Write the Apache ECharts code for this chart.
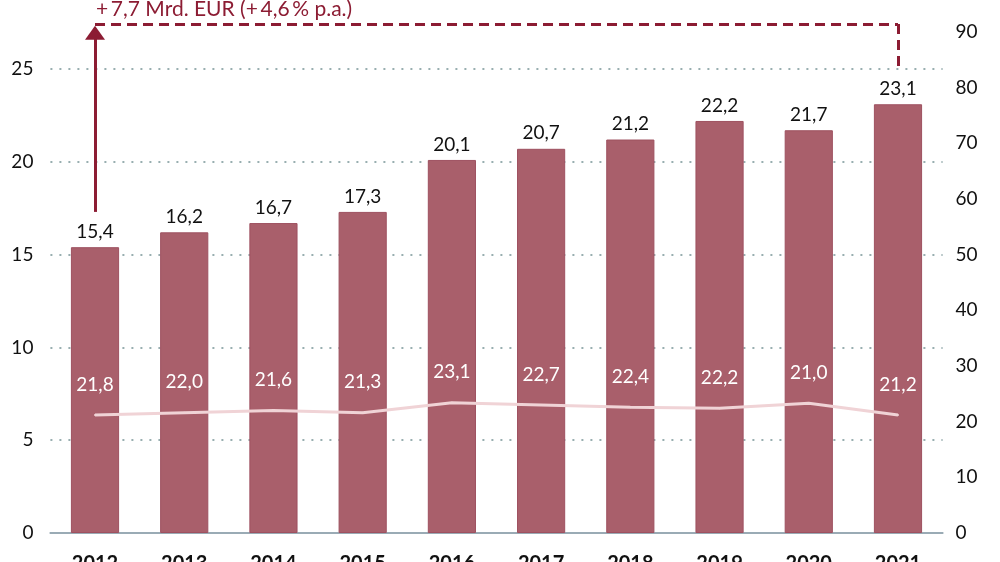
<!DOCTYPE html>
<html>
<head>
<meta charset="utf-8">
<script src="https://cdn.jsdelivr.net/npm/echarts@6/dist/echarts.min.js"></script>
<style>
html,body{margin:0;padding:0;width:1000px;height:562px;overflow:hidden;background:#fff;}
#c{position:absolute;left:0;top:-40px;width:1000px;height:640px;}
</style>
</head>
<body>
<div id="c"></div>
<script>
// Data
const years = ['2012','2013','2014','2015','2016','2017','2018','2019','2020','2021'];
const barValues = [15.4, 16.2, 16.7, 17.3, 20.1, 20.7, 21.2, 22.2, 21.7, 23.1];
const lineValues = [21.2, 21.6, 22.0, 21.6, 23.4, 23.0, 22.6, 22.4, 23.3, 21.2];
const lineLabels = ['21,8','22,0','21,6','21,3','23,1','22,7','22,4','22,2','21,0','21,2'];
const leftTicks = [0, 5, 10, 15, 20, 25];
const rightTicks = [0, 10, 20, 30, 40, 50, 60, 70, 80, 90];
const annotationText = '+\u20097,7 Mrd. EUR (+\u20094,6\u2009% p.a.)';
const arrowFrom = 17.3, arrowTo = 26.95, dashLevel = 27.42, dashEnd = 25.0, textLevel = 28.2;

const FONT = 'Lato';
const RED = '#8c1c33';
const INK = '#111111';
const fmt = v => v.toFixed(1).replace('.', ',');

const chart = echarts.init(document.getElementById('c'), null, {renderer: 'canvas'});
chart.setOption({
  animation: false,
  backgroundColor: '#fff',
  textStyle: {fontFamily: FONT},
  grid: {left: 50.4, right: 57.4, top: 16.2, bottom: 67, containLabel: false},
  xAxis: {
    type: 'category',
    data: years,
    axisLine: {show: true, lineStyle: {color: '#9aabb5', width: 2}},
    axisTick: {show: false},
    axisLabel: {fontFamily: FONT, fontSize: 20, color: INK, margin: 21, fontWeight: 'bold'}
  },
  yAxis: [{
    type: 'value', min: 0, max: 30, interval: 5,
    axisLine: {show: false}, axisTick: {show: false},
    axisLabel: {fontFamily: FONT, fontSize: 19, color: INK, margin: 17,
      formatter: v => leftTicks.indexOf(v) >= 0 ? String(v) : ''},
    splitLine: {show: true, lineStyle: {color: '#98aeb0', width: 2, type: [2, 7]}}
  }, {
    type: 'value', min: 0, max: 100, interval: 10, position: 'right',
    axisLine: {show: false}, axisTick: {show: false},
    axisLabel: {fontFamily: FONT, fontSize: 19, color: INK, margin: 13, align: 'left',
      formatter: v => rightTicks.indexOf(v) >= 0 ? String(v) : ''},
    splitLine: {show: false}
  }],
  series: [{
    type: 'bar',
    yAxisIndex: 0,
    data: barValues,
    barWidth: '54%',
    itemStyle: {color: '#a95f6b', borderColor: '#9e5160', borderWidth: 1},
    label: {show: true, position: 'top', distance: 6, fontFamily: FONT, fontSize: 19,
      color: INK, formatter: p => fmt(p.value)},
    markLine: {
      silent: true,
      animation: false,
      label: {show: false},
      data: [
        [{coord: [0, arrowFrom], symbol: 'none', lineStyle: {type: 'solid', width: 3, color: RED}},
         {coord: [0, arrowTo], symbol: 'triangle', symbolSize: [20, 14]}],
        [{coord: [0, dashLevel], symbol: 'none', lineStyle: {type: [10, 6], width: 3, color: RED}},
         {coord: [9, dashLevel], symbol: 'none'}],
        [{coord: [9, dashLevel], symbol: 'none', lineStyle: {type: [10, 6], width: 3, color: RED}},
         {coord: [9, dashEnd], symbol: 'none'}]
      ]
    }
  }, {
    type: 'line',
    yAxisIndex: 1,
    data: lineValues,
    symbol: 'circle',
    symbolSize: 2,
    showSymbol: true,
    itemStyle: {color: '#f0d3d6'},
    lineStyle: {color: '#f0d3d6', width: 3},
    label: {show: true, position: 'top', distance: 20, fontFamily: FONT, fontSize: 19,
      color: '#ffffff', formatter: p => lineLabels[p.dataIndex]},
    z: 3
  }]
});

const p = chart.convertToPixel({xAxisIndex: 0, yAxisIndex: 0}, [0, textLevel]);
chart.setOption({
  graphic: [{
    type: 'text',
    left: p[0] + 1,
    top: p[1] - 11,
    style: {text: annotationText, fontFamily: FONT, fontSize: 21, fill: RED}
  }]
});
</script>
</body>
</html>
